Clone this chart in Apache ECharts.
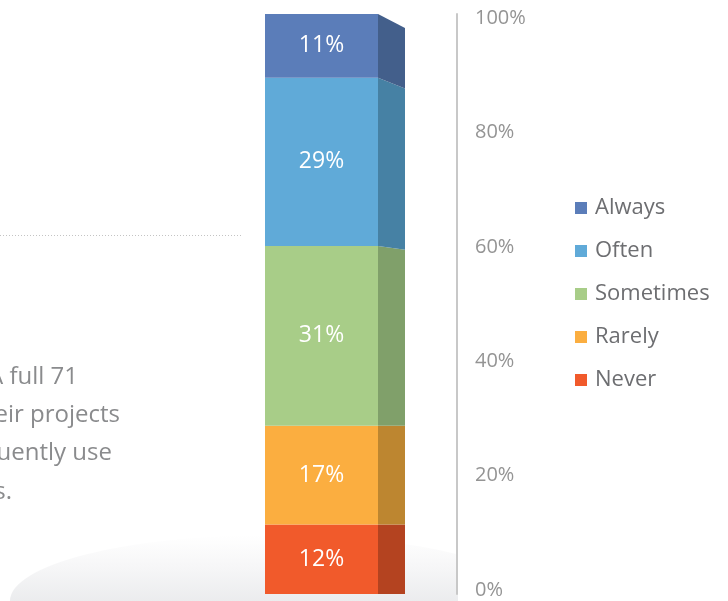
<!DOCTYPE html>
<html>
<head>
<meta charset="utf-8">
<script src="https://cdn.jsdelivr.net/npm/echarts@6/dist/echarts.min.js"></script>
<style>
html,body{margin:0;padding:0;background:#fff;}
#chart{width:728px;height:601px;}
</style>
</head>
<body>
<div id="chart"></div>
<script>
// ---- data ----
var categories = ['Never', 'Rarely', 'Sometimes', 'Often', 'Always'];
var values = [12, 17, 31, 29, 11];
var frontColors = ['#f15a2b', '#fbae40', '#a8cd88', '#60aad8', '#5b7db9'];
var sideColors = ['#b44320', '#bd8630', '#80a06a', '#4681a4', '#435f8b'];
var tickLabels = ['0%', '20%', '40%', '60%', '80%', '100%'];
var legendOrder = ['Always', 'Often', 'Sometimes', 'Rarely', 'Never'];
var sideLines = ['A full 71', 'eir projects', 'uently use', 's.'];

var FONT = '"Open Sans", "Noto Sans", sans-serif';

function sideDrop(v) {
  var t = Math.max(0, (v - 29) / 71);
  return 14 * Math.pow(t, 1.6);
}

var series = [];
var cum = 0;
categories.forEach(function (name, i) {
  var start = cum, end = cum + values[i];
  cum = end;
  series.push({
    name: name,
    type: 'custom',
    xAxisIndex: 0,
    yAxisIndex: 0,
    itemStyle: { color: frontColors[i] },
    data: [[0, start, end, values[i]]],
    renderItem: function (params, api) {
      var a = api.value(1), b = api.value(2), v = api.value(3);
      var pA = api.coord([0, a]);
      var pB = api.coord([0, b]);
      var bw = api.size([1, 0])[0];
      var fl = pA[0] - bw / 2;
      var fr = fl + bw * 113 / 192;
      var sr = fl + bw * 140 / 192;
      return {
        type: 'group',
        children: [
          {
            type: 'rect',
            shape: { x: fl, y: pB[1], width: fr - fl, height: pA[1] - pB[1] },
            style: { fill: frontColors[i] }
          },
          {
            type: 'polygon',
            shape: { points: [[fr, pB[1]], [sr, pB[1] + sideDrop(b)], [sr, pA[1] + sideDrop(a)], [fr, pA[1]]] },
            style: { fill: sideColors[i] }
          },
          {
            type: 'text',
            x: (fl + fr) / 2,
            y: (pA[1] + pB[1]) / 2,
            style: {
              text: v + '%',
              fill: '#ffffff',
              font: '23px ' + FONT,
              align: 'center',
              verticalAlign: 'middle'
            }
          }
        ]
      };
    }
  });
});

// invisible helper series on grid 1 so its axes are active
series.push({
  type: 'custom', name: '_axis', xAxisIndex: 1, yAxisIndex: 1,
  data: [[0, 0]], silent: true,
  renderItem: function () { return { type: 'group', children: [] }; }
});

var graphics = [
  {
    type: 'circle',
    shape: { cx: 0, cy: 0, r: 1 },
    x: 272, y: 601,
    scaleX: 262, scaleY: 66,
    z: -10,
    style: {
      fill: new echarts.graphic.LinearGradient(0, 0, 0, 1, [
        { offset: 0, color: 'rgba(246,246,247,0)' },
        { offset: 0.25, color: 'rgba(246,246,247,1)' },
        { offset: 0.55, color: 'rgba(233,234,236,1)' },
        { offset: 1, color: 'rgba(223,224,226,1)' }
      ])
    }
  },
  {
    type: 'rect',
    shape: { x: 458, y: 500, width: 270, height: 101 },
    z: -5,
    style: { fill: '#ffffff' }
  },
  {
    type: 'line',
    shape: { x1: 0, y1: 235.5, x2: 241, y2: 235.5 },
    style: { stroke: '#c4c4c4', lineWidth: 1, lineDash: [1, 2] }
  }
];
var lineRight = [78, 120, 112, 12];
var lineY = [377, 415, 453, 492];
sideLines.forEach(function (t, k) {
  graphics.push({
    type: 'text',
    x: lineRight[k], y: lineY[k],
    style: { text: t, fill: '#8a8b8d', font: '24px ' + FONT, align: 'right', verticalAlign: 'middle' }
  });
});

var option = {
  backgroundColor: '#ffffff',
  animation: false,
  grid: [
    { left: 265, right: 271, top: 14, bottom: 7 },
    { left: 265, right: 271, top: 18, bottom: 11 }
  ],
  xAxis: [
    { type: 'category', gridIndex: 0, data: ['share'], show: false },
    { type: 'category', gridIndex: 1, data: ['share'], show: false }
  ],
  yAxis: [
    {
      type: 'value', gridIndex: 0, position: 'right', min: 0, max: 100, interval: 20,
      axisLine: { show: true, lineStyle: { color: '#c8c8c8', width: 2 } },
      axisTick: { show: false }, axisLabel: { show: false }, splitLine: { show: false }
    },
    {
      type: 'value', gridIndex: 1, position: 'right', min: 0, max: 100, interval: 20,
      axisLine: { show: false }, axisTick: { show: false }, splitLine: { show: false },
      axisLabel: {
        show: true, margin: 18, color: '#949494', fontSize: 20, fontFamily: FONT,
        formatter: function (val) { return tickLabels[Math.round(val / 20)]; }
      }
    }
  ],
  legend: {
    orient: 'vertical',
    left: 575, top: 197,
    padding: 0,
    data: legendOrder,
    icon: 'rect',
    itemWidth: 12, itemHeight: 12,
    itemGap: 21,
    selectedMode: false,
    textStyle: { color: '#6d6e71', fontSize: 22, fontFamily: FONT, lineHeight: 22, padding: [0, 0, 0, 3] }
  },
  graphic: graphics,
  series: series
};

var chart = echarts.init(document.getElementById('chart'), null, { renderer: 'canvas' });
chart.setOption(option);
</script>
</body>
</html>
